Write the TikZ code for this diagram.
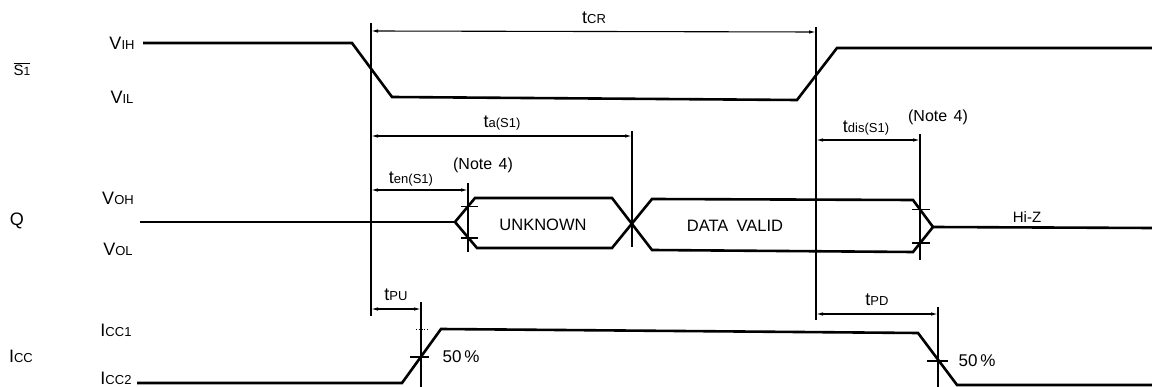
\documentclass[tikz,border=0pt]{standalone}
\usepackage{fontspec}
\setmainfont{Liberation Sans}
\usetikzlibrary{arrows.meta}
\newcommand\bigtxt[1]{{\fontsize{18}{20}\selectfont #1}}
\newcommand\smltxt[1]{{\fontsize{13}{15}\selectfont #1}}
\begin{document}
\begin{tikzpicture}[x=1pt,y=-1pt,
  wave/.style={line width=2.6pt,line join=miter,line cap=butt},
  dimline/.style={line width=1.1pt},
  dimarrow/.style={line width=1.1pt,{Latex[length=7pt,width=3.5pt]}-{Latex[length=7pt,width=3.5pt]}},
  tick/.style={line width=1.1pt},
  lbl/.style={inner sep=0pt,anchor=center},
  notetxt/.style={inner sep=0pt,anchor=center,font=\fontsize{16}{18}\selectfont},
  boxtext/.style={inner sep=0pt,anchor=center,font=\fontsize{16.5}{18}\selectfont}]
\useasboundingbox (0,0) rectangle (1152,387);

% ---- signal labels
\node[lbl] (s1) at (22,69) {$\overline{\hbox{\fontsize{15}{17}\selectfont S\fontsize{12}{14}\selectfont 1}}$};
\node[lbl] (vih) at (122,43) {\bigtxt{V}\smltxt{IH}};
\node[lbl] (vil) at (122,97) {\bigtxt{V}\smltxt{IL}};
\node[lbl] (q) at (17,221) {\bigtxt{Q}};
\node[lbl] (voh) at (118,198) {\bigtxt{V}\smltxt{OH}};
\node[lbl] (vol) at (118,249) {\bigtxt{V}\smltxt{OL}};
\node[lbl] (icc) at (21,356) {\bigtxt{I}\smltxt{CC}};
\node[lbl] (icc1) at (116,330) {\bigtxt{I}\smltxt{CC1}};
\node[lbl] (icc2) at (116,378) {\bigtxt{I}\smltxt{CC2}};

% ---- S1 waveform
\draw[wave] (143,43) -- (352,43) -- (392,97) -- (797,100) -- (837,48) -- (1152,48);

% ---- Q waveform
\draw[wave] (140,222) -- (455,222);
\draw[wave] (455,222) -- (475,198) -- (612,198) -- (652,250) -- (913,252) -- (933,227);
\draw[wave] (455,222) -- (477,248) -- (612,248) -- (652,199) -- (913,200) -- (933,227);
\draw[wave] (933,227) -- (1152,228);
\node[boxtext] (unk) at (543,225) {UNKNOWN};
\node[boxtext] (dv) at (735,226) {DATA\hspace{0.5em}VALID};
\node[lbl] (hiz) at (1027,217) {\fontsize{15}{17}\selectfont Hi-Z};

% ---- Icc waveform
\draw[wave] (137,383) -- (402,383) -- (441,329) -- (918,333) -- (957,385) -- (1152,385);

% ---- reference verticals
\coordinate (v1t) at (371,23);  \coordinate (v1b) at (371,316);
\coordinate (v2t) at (816,27);  \coordinate (v2b) at (816,320);
\coordinate (v3t) at (632,131); \coordinate (v3b) at (632,247);
\coordinate (v4t) at (468,183); \coordinate (v4b) at (468,252);
\coordinate (v5t) at (920,134); \coordinate (v5b) at (920,260);
\coordinate (v6t) at (421,302); \coordinate (v6b) at (421,387);
\coordinate (v7t) at (938,307); \coordinate (v7b) at (938,387);
\draw[dimline] (v1t) -- (v1b);
\draw[dimline] (v2t) -- (v2b);
\draw[dimline] (v3t) -- (v3b);
\draw[dimline] (v4t) -- (v4b);
\draw[dimline] (v5t) -- (v5b);
\draw[dimline] (v6t) -- (v6b);
\draw[dimline] (v7t) -- (v7b);

% ---- dimension arrows
\draw[dimarrow] (371,31) -- (816,32);
\node[lbl] (tcr) at (594,18) {\bigtxt{t}\smltxt{CR}};
\draw[dimarrow] (371,136) -- (632,136);
\node[lbl] (ta) at (502,123) {\bigtxt{t}\smltxt{a(S1)}};
\draw[dimarrow] (371,190) -- (468,190);
\node[lbl] (ten) at (411,179) {\bigtxt{t}\smltxt{en(S1)}};
\node[notetxt] (n1) at (483,165) {(Note\hspace{0.4em}4)};
\draw[dimarrow] (816,140) -- (920,140);
\node[lbl] (tdis) at (866,128) {\bigtxt{t}\smltxt{dis(S1)}};
\node[notetxt] (n2) at (938,117) {(Note\hspace{0.4em}4)};
\draw[dimarrow] (371,309) -- (421,309);
\node[lbl] (tpu) at (396,295) {\bigtxt{t}\smltxt{PU}};
\draw[dimarrow] (816,314) -- (938,314);
\node[lbl] (tpd) at (877,300) {\bigtxt{t}\smltxt{PD}};

% ---- crossing ticks
\draw[tick] (461,206.5) -- (478,206.5);
\draw[tick] (461,238) -- (478,238);
\draw[tick] (912,209.5) -- (930,209.5);
\draw[tick] (912,243) -- (930,243);
\draw[tick] (410,357) -- (429,357);
\draw[tick] (927,361) -- (948,361);
\draw[line width=0.8pt,dotted] (416,329) -- (428,329);
\node[lbl] (p1) at (461,357) {\fontsize{17}{19}\selectfont 50\,\%};
\node[lbl] (p2) at (977,361) {\fontsize{17}{19}\selectfont 50\,\%};
\end{tikzpicture}
\end{document}
